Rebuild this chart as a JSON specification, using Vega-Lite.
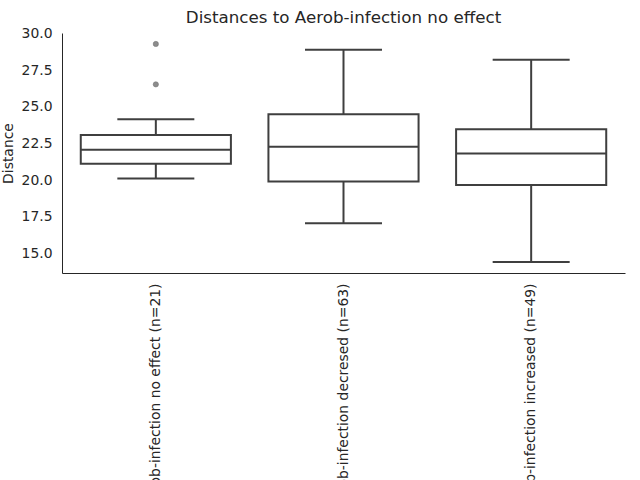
{
  "$schema": "https://vega.github.io/schema/vega-lite/v6.json",
  "autosize": {"type": "none"},
  "width": 563,
  "height": 240,
  "padding": {"left": 62, "top": 33, "right": 15, "bottom": 207},
  "background": "white",
  "config": {
    "view": {"stroke": null},
    "font": "DejaVu Sans",
    "axis": {"grid": false, "domainColor": "#262626", "labelColor": "#262626", "titleColor": "#262626", "ticks": false, "labelFont": "DejaVu Sans", "titleFont": "DejaVu Sans", "titleFontWeight": "normal", "labelOverlap": false}
  },
  "title": {"text": "Distances to Aerob-infection no effect", "fontSize": 16.7, "fontWeight": "normal", "color": "#262626", "font": "DejaVu Sans", "offset": 0},
  "resolve": {"axis": {"y": "independent"}},
  "datasets": {
    "boxes": [
      {"group": "Aerob-infection no effect (n=21)", "lower": 20.11, "q1": 21.11, "median": 22.08, "q3": 23.08, "upper": 24.16},
      {"group": "Aerob-infection decresed (n=63)", "lower": 17.05, "q1": 19.9, "median": 22.28, "q3": 24.5, "upper": 28.91},
      {"group": "Aerob-infection increased (n=49)", "lower": 14.41, "q1": 19.66, "median": 21.81, "q3": 23.48, "upper": 28.23}
    ],
    "outliers": [
      {"group": "Aerob-infection no effect (n=21)", "value": 29.3},
      {"group": "Aerob-infection no effect (n=21)", "value": 26.54}
    ]
  },
  "encoding": {
    "x": {"field": "group", "type": "nominal", "sort": null, "title": null,
      "scale": {"paddingInner": 0, "paddingOuter": 0},
      "axis": {"labelAngle": -90, "labelFontSize": 13.9, "labelPadding": 10, "labelLimit": 0}}
  },
  "layer": [
    {
      "data": {"name": "boxes"},
      "mark": {"type": "rule", "color": "#3f3f3f", "strokeWidth": 2},
      "encoding": {
        "y": {"field": "lower", "type": "quantitative", "title": "Distance",
          "scale": {"domain": [13.65, 30.05], "nice": false, "zero": false},
          "axis": {"values": [15, 17.5, 20, 22.5, 25, 27.5, 30], "format": ".1f", "labelFontSize": 13.9, "titleFontSize": 13.9, "labelPadding": 10, "titlePadding": 6}},
        "y2": {"field": "upper"}
      }
    },
    {
      "data": {"name": "boxes"},
      "mark": {"type": "bar", "fill": "white", "stroke": "#3f3f3f", "strokeWidth": 2, "width": {"band": 0.8}},
      "encoding": {
        "y": {"field": "q1", "type": "quantitative", "axis": null},
        "y2": {"field": "q3"}
      }
    },
    {
      "data": {"name": "boxes"},
      "mark": {"type": "tick", "color": "#3f3f3f", "size": 150, "thickness": 2, "opacity": 1},
      "encoding": {"y": {"field": "median", "type": "quantitative", "axis": null}}
    },
    {
      "data": {"name": "boxes"},
      "mark": {"type": "tick", "color": "#3f3f3f", "size": 77, "thickness": 2, "opacity": 1},
      "encoding": {"y": {"field": "lower", "type": "quantitative", "axis": null}}
    },
    {
      "data": {"name": "boxes"},
      "mark": {"type": "tick", "color": "#3f3f3f", "size": 77, "thickness": 2, "opacity": 1},
      "encoding": {"y": {"field": "upper", "type": "quantitative", "axis": null}}
    },
    {
      "data": {"name": "outliers"},
      "mark": {"type": "point", "filled": true, "fill": "#8c8c8c", "stroke": "#6f6f6f", "strokeWidth": 0.5, "size": 28, "opacity": 1},
      "encoding": {"y": {"field": "value", "type": "quantitative", "axis": null}}
    }
  ]
}
